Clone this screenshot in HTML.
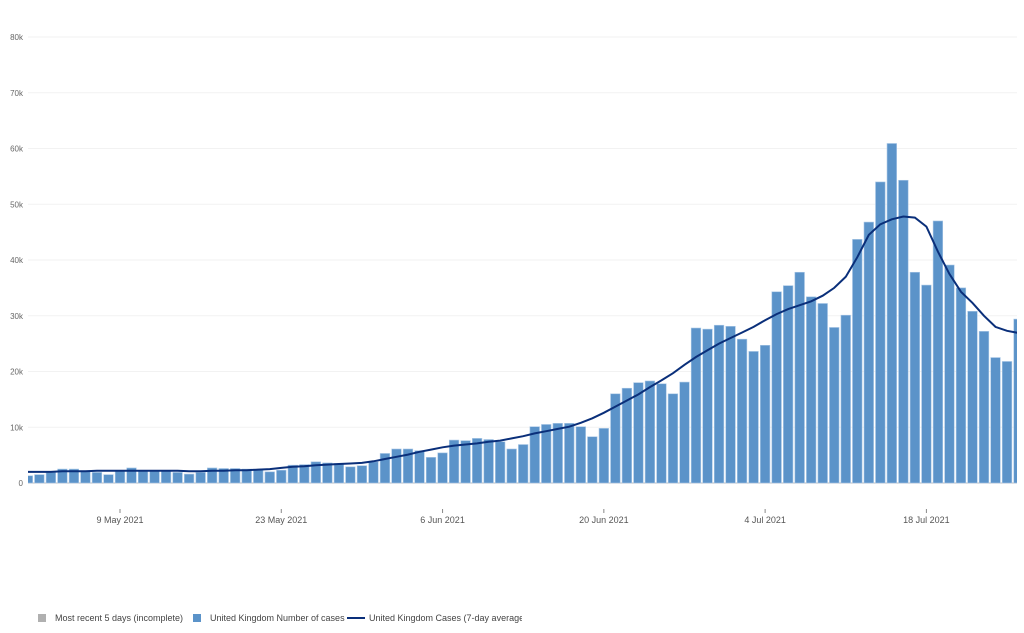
<!DOCTYPE html>
<html><head><meta charset="utf-8"><style>
body{margin:0;width:1024px;height:633px;background:#fff;overflow:hidden;font-family:"Liberation Sans",sans-serif}
svg{position:absolute;left:0;top:0}
.lgw{position:absolute;left:0;top:609px;width:522px;height:18px;overflow:hidden}
.li{position:absolute;top:0;font-size:9px;color:#444;white-space:nowrap;line-height:18px}
.sw{position:absolute;top:5px;width:8px;height:8px}
</style></head><body>
<svg width="1024" height="633">
<defs><clipPath id="pc"><rect x="28" y="0" width="989" height="500"/></clipPath></defs>
<g id="grid"></g><g id="yl"></g><g id="bars" clip-path="url(#pc)"></g><g id="ln" clip-path="url(#pc)"></g><g id="xl"></g>
</svg>
<div class="lgw">
<span class="sw" style="left:38px;background:#b0b0b0"></span>
<span class="li" style="left:55px">Most recent 5 days (incomplete)</span>
<span class="sw" style="left:193px;background:#5b93c9"></span>
<span class="li" style="left:210px">United Kingdom Number of cases</span>
<span style="position:absolute;left:347px;top:8px;width:18px;height:2px;background:#0a2f7a"></span>
<span class="li" style="left:369px">United Kingdom Cases (7-day average)</span>
</div>
<script>
const cases=[1.3,1.5,1.9,2.5,2.5,2.2,1.9,1.5,2.2,2.7,2.2,2.2,2.2,1.9,1.6,1.9,2.7,2.6,2.6,2.5,2.3,2.0,2.3,3.2,3.3,3.8,3.6,3.5,2.9,3.1,3.8,5.3,6.1,6.1,5.8,4.6,5.4,7.7,7.6,8.0,7.8,7.4,6.1,6.9,10.1,10.5,10.7,10.7,10.1,8.3,9.8,16.0,17.0,18.0,18.3,17.8,16.0,18.1,27.8,27.6,28.3,28.1,25.8,23.6,24.7,34.3,35.4,37.8,33.4,32.2,27.9,30.1,43.7,46.8,54.0,60.9,54.3,37.8,35.5,47.0,39.1,35.0,30.8,27.2,22.5,21.8,29.4];
const avg=[2.0,2.0,2.0,2.1,2.1,2.1,2.2,2.2,2.2,2.2,2.2,2.2,2.2,2.2,2.1,2.1,2.2,2.2,2.3,2.3,2.4,2.5,2.7,2.9,3.0,3.2,3.3,3.4,3.5,3.6,3.9,4.3,4.7,5.1,5.6,6.0,6.4,6.7,6.9,7.1,7.4,7.6,8.0,8.4,8.9,9.3,9.7,10.1,10.8,11.6,12.6,13.7,14.8,15.9,17.2,18.4,19.7,21.2,22.6,23.8,25.0,26.0,27.0,28.0,29.2,30.3,31.2,31.9,32.6,33.6,35.0,37.0,40.5,44.5,46.4,47.3,47.8,47.6,46.0,41.5,37.5,34.3,32.3,30.0,28.0,27.3,26.9];
const yTicks=[0,10,20,30,40,50,60,70,80];
const xTickDays=[8,22,36,50,64,78];
const xTickLabels=["9 May 2021","23 May 2021","6 Jun 2021","20 Jun 2021","4 Jul 2021","18 Jul 2021"];
const NS="http://www.w3.org/2000/svg";
const X=i=>120+(i-8)*11.52, Y=v=>483-v/80*446;
function mk(t,a,p){const e=document.createElementNS(NS,t);for(const k in a)e.setAttribute(k,a[k]);p.appendChild(e);return e;}
const G=document.getElementById('grid'),YL=document.getElementById('yl'),B=document.getElementById('bars'),L=document.getElementById('ln'),XL=document.getElementById('xl');
yTicks.forEach(v=>{
 const g=mk('line',{x1:28,x2:1017,y1:Y(v),y2:Y(v),stroke:v?'#f2f2f2':'#bbbbbb','stroke-width':1},G);
 
 
 const t=mk('text',{x:23,y:Y(v)+3,'text-anchor':'end','font-size':8,fill:'#666'},YL);
 t.textContent=v?v+'k':'0';
 
 
});
cases.forEach((v,i)=>{
 const r=mk('rect',{x:X(i)-4.8,y:Y(v),width:9.6,height:483-Y(v),fill:'#5b93c9',stroke:'#a9c7e6','stroke-width':0.6},B);
 
 
});
const p=mk('path',{d:avg.map((v,i)=>(i?'L':'M')+X(i).toFixed(1)+' '+Y(v).toFixed(1)).join(''),fill:'none',stroke:'#0a2f7a','stroke-width':2},L);


xTickDays.forEach((d,k)=>{
 const m=mk('line',{x1:X(d),x2:X(d),y1:509,y2:513,stroke:'#888'},XL);
 
 
 const t=mk('text',{x:X(d),y:523,'text-anchor':'middle','font-size':9,fill:'#555'},XL);
 t.textContent=xTickLabels[k];
 
 
});
</script>
</body></html>
